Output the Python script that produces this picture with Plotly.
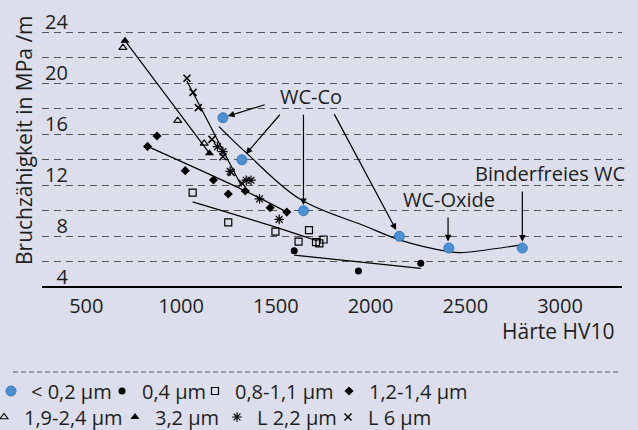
import plotly.graph_objects as go

# ---------------- data ----------------
# < 0,2 um (WC-Co / WC-Oxide / binderfrei) – blue
hv_02 = [1221, 1321, 1646, 2152, 2413, 2801]
k_02 = [17.3, 14.0, 10.0, 8.0, 7.08, 7.08]
# 0,4 um – filled circles
hv_04 = [1597, 1936, 2265]
k_04 = [6.87, 5.28, 5.88]
# 0,8-1,1 um – open squares
hv_08 = [1061, 1249, 1498, 1620, 1675, 1712, 1730, 1752]
k_08 = [11.42, 9.1, 8.37, 7.58, 8.49, 7.55, 7.45, 7.75]
# 1,2-1,4 um – diamonds
hv_12 = [823, 873, 1022, 1171, 1249, 1339, 1470, 1558]
k_12 = [15.05, 15.87, 13.15, 12.42, 11.32, 11.55, 10.24, 9.9]
# 1,9-2,4 um – open triangles
hv_19 = [693, 982, 1122]
k_19 = [22.8, 17.07, 15.29]
# 3,2 um – filled triangles
hv_32 = [704, 1150]
k_32 = [23.34, 14.51]
# L 2,2 um – asterisks
hv_l22 = [1192, 1221, 1259, 1344, 1369, 1414, 1518]
k_l22 = [15.03, 14.64, 13.1, 12.4, 12.4, 10.93, 9.33]
# L 6 um – crosses
hv_l6 = [1031, 1063, 1091, 1163, 1221, 1265, 1321]
k_l6 = [20.39, 19.29, 18.09, 15.6, 14.24, 13.0, 12.16]

series_names = ["< 0,2 µm", "0,4 µm", "0,8-1,1 µm", "1,2-1,4 µm",
                "1,9-2,4 µm", "3,2 µm", "L 2,2 µm", "L 6 µm"]

# trend lines
trend_wcco_x = [1200, 1347, 1629, 1980, 2156, 2413, 2473, 2801]
trend_wcco_y = [16.6, 14.5, 10.9, 8.75, 7.7, 6.8, 6.72, 7.35]
trend_32_x = [704, 1150]
trend_32_y = [23.34, 14.51]
trend_l6_x = [1030, 1320]
trend_l6_y = [20.2, 11.9]
trend_12_x = [823, 1339, 1558]
trend_12_y = [15.05, 11.55, 9.9]
trend_08_x = [1061, 1498, 1717]
trend_08_y = [10.7, 8.72, 7.65]
trend_04_x = [1597, 2265]
trend_04_y = [6.53, 5.49]

# axis ticks
x_ticks = [500, 1000, 1500, 2000, 2500, 3000]
y_ticks = [4, 6, 8, 10, 12, 14, 16, 18, 20, 22, 24]
y_ticklabels = ["\u20074", "", "\u20078", "", "12", "", "16", "", "20", "", "24"]

# labels with arrows: (text, text x, text y)
labels = [("WC-Co", 1684, 19.0), ("WC-Oxide", 2415, 10.85), ("Binderfreies WC", 2945, 12.89)]
# arrows: (tail x, tail y, head x, head y)
arrows = [(1449, 18.35, 1247, 17.43),
          (1528, 17.65, 1342, 14.45),
          (1646, 17.65, 1646, 10.45),
          (1804, 17.7, 2135, 8.49),
          (2409, 9.59, 2409, 7.6),
          (2801, 11.63, 2801, 7.58)]

# ---------------- styling ----------------
W, H = 638, 430
ML, MR, MT, MB = 42, 16, 8, 136
AXIS_PX = 287.3        # pixel row of the x-axis line (value 4)
PX_PER_UNIT = 12.75
FONT = "Open Sans"
TXT = "#1e1e1e"
BG = "#dcdfeb"
BLUE = "#4a90d2"
# legend layout (pixel positions of legend text starts, row centres)
leg_text_x = [35, 146, 239, 373, 28, 159, 261, 372]
leg_row_y = [391] * 4 + [417] * 4


def px_x(px):
    return (px - ML) / (W - ML - MR)


def px_y(py):
    return (H - MB - py) / (H - MT - MB)


fig = go.Figure()

line_style = dict(color="black", width=1.2)
for tx, ty in [(trend_wcco_x, trend_wcco_y), (trend_32_x, trend_32_y), (trend_l6_x, trend_l6_y),
               (trend_12_x, trend_12_y), (trend_08_x, trend_08_y), (trend_04_x, trend_04_y)]:
    fig.add_trace(go.Scatter(x=tx, y=ty, mode="lines", line=dict(shape="spline", smoothing=1.0, **line_style),
                             showlegend=False, hoverinfo="skip"))

markers = [
    dict(symbol="circle", size=10, color=BLUE, line=dict(color="#3a78b8", width=1)),
    dict(symbol="circle", size=7, color="black"),
    dict(symbol="square-open", size=7, color="black", line=dict(width=1.2)),
    dict(symbol="diamond", size=7, color="black"),
    dict(symbol="triangle-up-open", size=7, color="black", line=dict(width=1.1)),
    dict(symbol="triangle-up", size=8, color="black"),
    dict(symbol="asterisk-open", size=8, color="black", line=dict(width=1.2, color="black")),
    dict(symbol="x-thin-open", size=7, color="black", line=dict(width=1.5, color="black")),
]
data_xy = [(hv_02, k_02), (hv_04, k_04), (hv_08, k_08), (hv_12, k_12),
           (hv_19, k_19), (hv_32, k_32), (hv_l22, k_l22), (hv_l6, k_l6)]
legend_layouts = {}
for i, ((xs, ys), mk, name) in enumerate(zip(data_xy, markers, series_names)):
    lg = "legend" if i == 0 else f"legend{i + 1}"
    fig.add_trace(go.Scatter(x=xs, y=ys, mode="markers", marker=mk, name=name, legend=lg))
    legend_layouts[lg] = dict(orientation="h", x=px_x(leg_text_x[i] - 44), y=px_y(leg_row_y[i]),
                              xanchor="left", yanchor="middle", bgcolor="rgba(0,0,0,0)",
                              font=dict(family=FONT, size=20, color=TXT), itemwidth=30)

for text, tx, ty in labels:
    fig.add_annotation(x=tx, y=ty, text=text, showarrow=False, font=dict(family=FONT, size=20, color=TXT),
                       xanchor="center", yanchor="middle")
for ax_, ay_, hx, hy in arrows:
    fig.add_annotation(x=hx, y=hy, ax=ax_, ay=ay_, axref="x", ayref="y", text="", showarrow=True,
                       arrowhead=2, arrowsize=1.1, arrowwidth=1.2, arrowcolor="black", standoff=0)

# axis titles
fig.add_annotation(xref="paper", yref="paper", x=px_x(617), y=px_y(331), text="Härte HV10", showarrow=False,
                   xanchor="right", yanchor="middle", font=dict(family=FONT, size=21, color=TXT))
fig.add_annotation(xref="paper", yref="paper", x=px_x(24), y=px_y(140), text="Bruchzähigkeit in MPa /m",
                   textangle=-90, showarrow=False, xanchor="center", yanchor="middle",
                   font=dict(family=FONT, size=21, color=TXT))

# legend separator
fig.add_shape(type="line", xref="paper", yref="paper", x0=px_x(13), x1=px_x(621), y0=px_y(372), y1=px_y(372),
              line=dict(color="#555555", width=1, dash="5px,3px"))

y_lo = 4 - (H - MB - AXIS_PX) / PX_PER_UNIT
y_hi = 4 + (AXIS_PX - MT) / PX_PER_UNIT

fig.update_layout(
    width=W, height=H,
    margin=dict(l=ML, r=MR, t=MT, b=MB, pad=0, autoexpand=False),
    paper_bgcolor=BG, plot_bgcolor=BG,
    font=dict(family=FONT, size=20, color=TXT),
    xaxis=dict(range=[266, 3327], tickvals=x_ticks, showgrid=False, zeroline=False,
               anchor="free", position=px_y(AXIS_PX),
               showline=True, linecolor="black", linewidth=1.5, ticks="", ticklabelstandoff=1,
               tickfont=dict(size=20, color=TXT)),
    yaxis=dict(range=[y_lo, y_hi], tickvals=y_ticks, ticktext=y_ticklabels, showgrid=True,
               gridcolor="#555555", griddash="7px,5px", gridwidth=1.3, zeroline=False, showline=False,
               ticks="", ticklabelposition="inside", ticklabelshift=-10, ticklabelstandoff=0,
               tickfont=dict(size=20, color=TXT)),
    showlegend=True,
    **legend_layouts,
)

fig.write_html("out.html")
